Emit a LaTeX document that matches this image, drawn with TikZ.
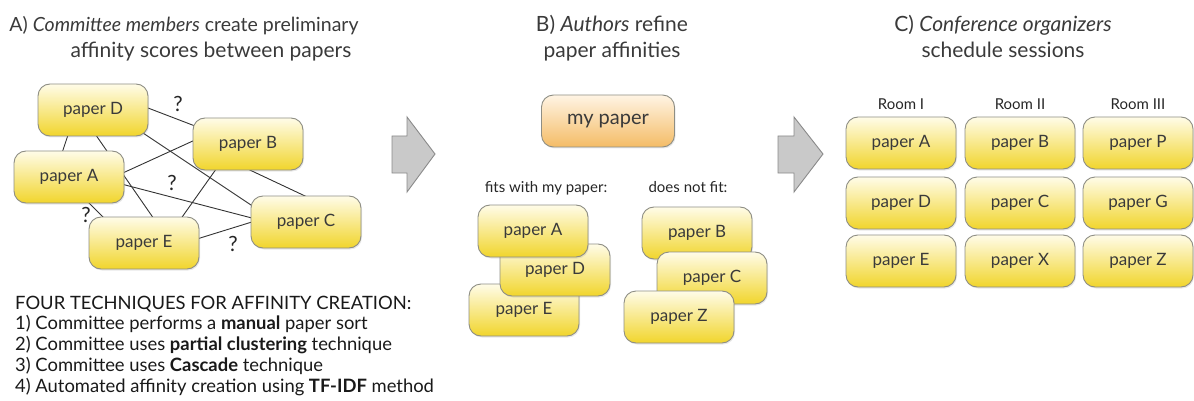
\documentclass[tikz,border=0pt]{standalone}
\usepackage{fontspec}
\setmainfont{Lato}
\usetikzlibrary{shadows,backgrounds}
\definecolor{boxtop}{HTML}{FFFCE8}
\definecolor{boxbot}{HTML}{F1D52C}
\definecolor{mytop}{HTML}{FFF4E4}
\definecolor{mybot}{HTML}{F4BC66}
\definecolor{boxline}{HTML}{8E8E84}
\definecolor{ink}{HTML}{3A3A3A}
\definecolor{arrowfill}{HTML}{C9C9C9}
\definecolor{arrowline}{HTML}{8A8A8A}
\tikzset{
  paperbox/.style={draw=boxline, line width=0.9pt, rounded corners=12pt,
    top color=boxtop, bottom color=boxbot, minimum width=110pt, minimum height=52pt,
    text=ink, font=\fontsize{17}{20}\selectfont,
    drop shadow={opacity=0.18, shadow xshift=1pt, shadow yshift=-1.5pt}},
  mybox/.style={paperbox, top color=mytop, bottom color=mybot, minimum width=133pt,
    font=\fontsize{20}{24}\selectfont},
  link/.style={draw=black!80, line width=0.9pt},
  qmark/.style={text=black!85, font=\fontsize{21}{24}\selectfont},
  title/.style={anchor=base, text=ink, font=\fontsize{21}{24}\selectfont},
  label/.style={anchor=base, text=black!85, font=\fontsize{15}{18}\selectfont},
  listline/.style={anchor=base west, text=black!90, font=\fontsize{18.4}{21}\selectfont, inner sep=0pt},
  blockarrow/.style={draw=arrowline, fill=arrowfill, line width=0.9pt, line join=miter}
}
\begin{document}
\begin{tikzpicture}[x=1pt, y=-1pt]
\useasboundingbox (0,0) rectangle (1194,401);

% ---------- A) preliminary affinity graph ----------
\node[title, font=\fontsize{19.5}{24}\selectfont] (tA1) at (184,32) {A) \textit{Committee members} create preliminary};
\node[title] (tA2) at (211,58) {affinity scores between papers};

\node[paperbox] (D) at (93,110) {paper D};
\node[paperbox] (B) at (248,144) {paper B};
\node[paperbox] (A) at (69,177) {paper A};
\node[paperbox] (C) at (306,222) {paper C};
\node[paperbox] (E) at (144,243) {paper E};

% the links run behind the boxes
\begin{scope}[on background layer]
  \draw[link] ([shift={(31.5,-11)}]D.center) -- ([shift={(-29.5,-9)}]B.center);
  \draw[link] ([shift={(26,7)}]D.center) -- ([shift={(-28,1)}]C.center);
  \draw[link] ([shift={(-11,5)}]D.center) -- ([shift={(19,-11)}]E.center);
  \draw[link] ([shift={(-22,16)}]D.center) -- ([shift={(-10,-15)}]A.center);
  \draw[link] ([shift={(38.5,3)}]A.center) -- ([shift={(-35.5,-12)}]B.center);
  \draw[link] ([shift={(37,3)}]A.center) -- ([shift={(-35,1)}]C.center);
  \draw[link] ([shift={(12,18)}]A.center) -- ([shift={(-30,-15)}]E.center);
  \draw[link] ([shift={(-20.5,9)}]B.center) -- ([shift={(27.5,-11)}]E.center);
  \draw[link] ([shift={(-12,19.5)}]B.center) -- ([shift={(15,-18.5)}]C.center);
  \draw[link] ([shift={(40,0)}]E.center) -- ([shift={(-38,-5)}]C.center);
\end{scope}

\node[qmark] (q1) at (178,104) {?};
\node[qmark] (q2) at (172,183) {?};
\node[qmark] (q3) at (86,215) {?};
\node[qmark] (q4) at (233,244) {?};

% ---------- B) authors refine ----------
\node[title] (tB1) at (612,32) {B) \textit{Authors} refine};
\node[title] (tB2) at (612,58) {paper affinities};

\node[mybox] (my) at (608,121) {my paper};
\node[label] (fits) at (546,193) {fits with my paper:};
\node[label] (nofit) at (688,193) {does not fit:};

\node[paperbox] (sE) at (524,310) {paper E};
\node[paperbox] (sD) at (555,270) {paper D};
\node[paperbox] (sA) at (533,231) {paper A};

\node[paperbox] (sB) at (697,233) {paper B};
\node[paperbox] (sC) at (712,278) {paper C};
\node[paperbox] (sZ) at (679,317) {paper Z};

% ---------- C) sessions ----------
\node[title] (tC1) at (1003,32) {C) \textit{Conference organizers}};
\node[title] (tC2) at (1003,58) {schedule sessions};

\node[label] (r1) at (901,110) {Room I};
\node[label] (r2) at (1020,110) {Room II};
\node[label] (r3) at (1138,110) {Room III};

\node[paperbox] (cA) at (901,143) {paper A};
\node[paperbox] (cD) at (901,203) {paper D};
\node[paperbox] (cE) at (901,261) {paper E};
\node[paperbox] (cB) at (1020,143) {paper B};
\node[paperbox] (cC) at (1020,203) {paper C};
\node[paperbox] (cX) at (1020,261) {paper X};
\node[paperbox] (cP) at (1138,143) {paper P};
\node[paperbox] (cG) at (1138,203) {paper G};
\node[paperbox] (cZ) at (1138,261) {paper Z};

% ---------- step arrows ----------
\draw[blockarrow] (392,136) -- (407,136) -- (407,117) -- (435,154) -- (407,192) -- (407,173) -- (392,173) -- cycle;
\draw[blockarrow] (778,136) -- (794,136) -- (794,117) -- (823,154) -- (794,192) -- (794,173) -- (778,173) -- cycle;

% ---------- technique list ----------
\node[listline] (h0) at (15,309) {FOUR TECHNIQUES FOR AFFINITY CREATION:};
\node[listline] (h1) at (15,329) {1) Committee performs a \textbf{manual} paper sort};
\node[listline] (h2) at (15,350) {2) Committee uses \textbf{partial clustering} technique};
\node[listline] (h3) at (15,371) {3) Committee uses \textbf{Cascade} technique};
\node[listline] (h4) at (15,392) {4) Automated affinity creation using \textbf{TF-IDF} method};
\end{tikzpicture}
\end{document}
